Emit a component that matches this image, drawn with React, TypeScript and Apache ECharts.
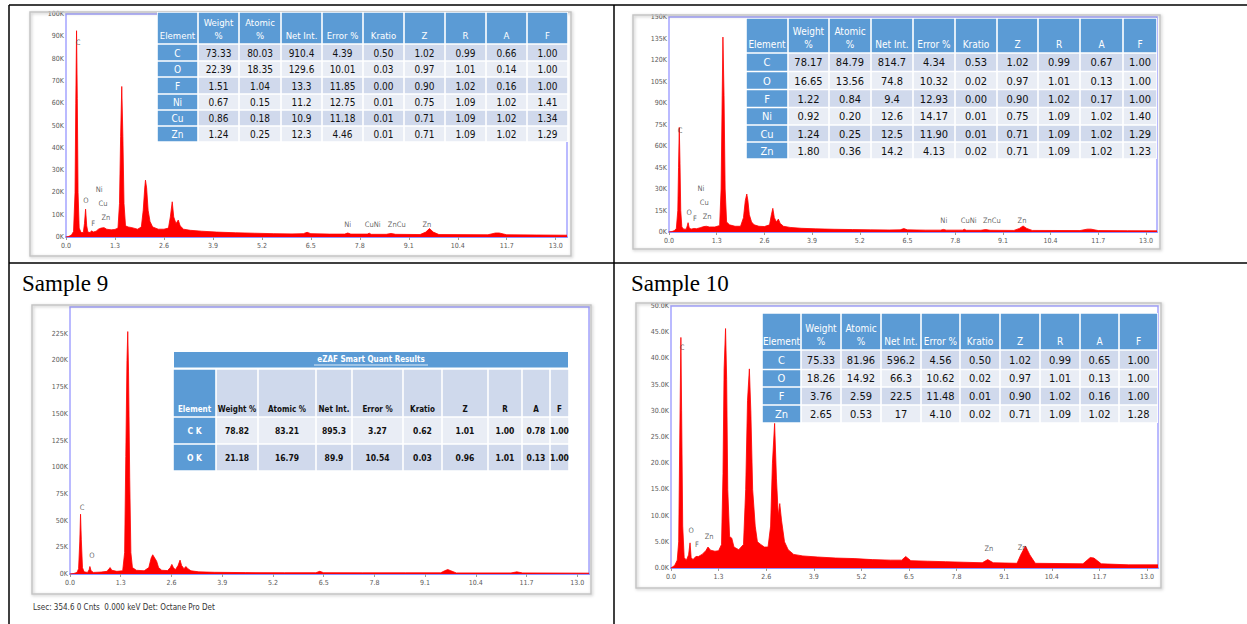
import React, { useEffect, useRef } from 'react';
import * as echarts from 'echarts';

// ---------- DATA ----------
// spectra: [energy keV, counts in thousands]
const spectrum8: number[][] = [
  [0, 0], [0.08, 0.3], [0.15, 1.0], [0.2, 2.5], [0.24, 20], [0.26, 60], [0.28, 92.5], [0.3, 62], [0.32, 20], [0.35, 4],
  [0.4, 2.0], [0.46, 2.0], [0.49, 6], [0.52, 12.5], [0.55, 5], [0.58, 2.2], [0.64, 2.0], [0.68, 2.8], [0.72, 2.2],
  [0.8, 2.6], [0.86, 3.5], [0.93, 4.0], [1.01, 4.2], [1.08, 3.5], [1.2, 3.2], [1.3, 3.4], [1.38, 4], [1.42, 15],
  [1.45, 45], [1.48, 67.5], [1.51, 45], [1.54, 15], [1.58, 5], [1.65, 4.5], [1.75, 4.2], [1.9, 3.5], [2.0, 4.5],
  [2.05, 12], [2.09, 22], [2.11, 25.5], [2.14, 22], [2.18, 12], [2.23, 7], [2.3, 4.5], [2.45, 3.5], [2.6, 3.5],
  [2.72, 4], [2.77, 9], [2.82, 15.8], [2.86, 9], [2.92, 6], [2.98, 7.6], [3.03, 5], [3.12, 3.5], [3.3, 3],
  [3.6, 2.6], [4.0, 2.2], [4.5, 1.9], [5.0, 1.7], [5.5, 1.5], [6.0, 1.4], [6.3, 1.5], [6.4, 2.1], [6.5, 1.5],
  [7.0, 1.3], [7.4, 1.3], [7.48, 1.8], [7.56, 1.3], [8.0, 1.3], [8.05, 1.7], [8.1, 1.2], [8.5, 1.2], [8.63, 1.6],
  [8.75, 1.2], [9.4, 1.1], [9.55, 2.2], [9.65, 3.8], [9.75, 2.2], [9.9, 1.1], [11.2, 1.0], [11.4, 1.8], [11.5, 1.8],
  [11.7, 1.0], [12.5, 0.9], [13.3, 0.8],
];
const spectrum8b: number[][] = [
  [0, 0], [0.08, 0.3], [0.15, 1], [0.2, 2.5], [0.24, 15], [0.26, 45], [0.28, 73], [0.3, 48], [0.32, 15], [0.35, 3.5],
  [0.4, 2], [0.47, 2], [0.5, 4.5], [0.52, 6.5], [0.55, 3], [0.6, 2], [0.68, 2.5], [0.75, 2.3], [0.85, 3], [0.95, 3.8],
  [1.02, 4], [1.1, 3.5], [1.25, 3.5], [1.38, 4.5], [1.42, 30], [1.45, 95], [1.47, 136], [1.5, 95], [1.53, 30],
  [1.57, 7], [1.65, 5], [1.8, 4], [1.95, 4], [2.03, 10], [2.08, 22], [2.12, 26.5], [2.15, 22], [2.19, 12], [2.25, 7],
  [2.32, 5], [2.45, 4], [2.6, 3.8], [2.74, 5], [2.79, 12], [2.83, 16.5], [2.87, 10], [2.93, 7], [2.98, 9], [3.03, 6],
  [3.12, 4], [3.3, 3.2], [3.6, 2.6], [4.0, 2.2], [4.5, 1.9], [5.0, 1.7], [5.5, 1.5], [6.0, 1.4], [6.3, 1.5],
  [6.4, 2.4], [6.5, 1.5], [7.0, 1.3], [7.4, 1.3], [7.48, 1.8], [7.56, 1.3], [8.0, 1.3], [8.05, 1.9], [8.1, 1.2],
  [8.5, 1.2], [8.63, 1.7], [8.75, 1.2], [9.4, 1.1], [9.55, 2.5], [9.65, 4.2], [9.75, 2.5], [9.9, 1.1], [11.2, 1.0],
  [11.4, 2.0], [11.5, 2.0], [11.7, 1.0], [12.5, 0.9], [13.3, 0.8],
];
const spectrum9: number[][] = [
  [0, 0], [0.1, 0.5], [0.18, 1.5], [0.22, 5], [0.25, 30], [0.27, 56], [0.29, 32], [0.32, 6], [0.36, 2], [0.45, 1.5],
  [0.49, 4], [0.51, 7], [0.54, 3], [0.6, 1.5], [0.8, 1.8], [0.95, 2.5], [1.0, 5], [1.03, 6], [1.07, 3.5], [1.2, 2.5],
  [1.35, 3], [1.4, 20], [1.43, 110], [1.46, 200], [1.48, 227], [1.5, 190], [1.53, 90], [1.56, 20], [1.6, 6],
  [1.7, 3.5], [1.9, 3], [2.02, 6], [2.08, 15], [2.12, 18], [2.17, 15], [2.22, 12], [2.27, 6], [2.35, 3.5], [2.5, 3.2],
  [2.57, 6], [2.61, 9], [2.65, 6], [2.7, 4], [2.77, 8], [2.82, 13], [2.86, 8], [2.92, 5], [2.97, 7], [3.02, 5],
  [3.1, 3], [3.3, 2], [3.7, 1.6], [4.5, 1.3], [5.5, 1.2], [6.3, 1.2], [6.4, 2.5], [6.5, 1.2], [7.5, 1.1], [8.6, 1.1],
  [9.5, 1.1], [9.6, 3], [9.68, 4.2], [9.76, 3], [9.9, 1.0], [11.3, 1.0], [11.45, 2.0], [11.6, 1.0], [13.3, 0.8],
];
const spectrum10: number[][] = [
  [0, 0], [0.1, 0.5], [0.17, 1.5], [0.21, 5], [0.24, 25], [0.27, 44], [0.29, 30], [0.32, 8], [0.36, 2], [0.42, 1.5],
  [0.48, 2.5], [0.52, 4.8], [0.55, 2], [0.6, 1.6], [0.68, 2.2], [0.75, 2.2], [0.85, 2.6], [0.95, 3.3], [1.01, 4],
  [1.08, 3.4], [1.2, 3.2], [1.3, 3.3], [1.38, 4.5], [1.42, 18], [1.45, 38], [1.49, 45.7], [1.52, 36], [1.55, 15],
  [1.6, 6], [1.66, 5.7], [1.72, 4], [1.85, 3.5], [1.98, 4.5], [2.04, 15], [2.09, 32], [2.14, 38], [2.18, 30],
  [2.23, 15], [2.3, 8], [2.36, 5], [2.45, 4.5], [2.55, 4], [2.65, 4], [2.72, 8], [2.77, 20], [2.83, 27.6], [2.88, 17],
  [2.93, 10], [2.97, 12.3], [3.02, 9], [3.1, 5], [3.2, 3.5], [3.35, 2.6], [3.6, 2.3], [4.0, 2.1], [4.5, 1.9],
  [5.0, 1.8], [5.5, 1.6], [6.0, 1.5], [6.3, 1.5], [6.41, 2.2], [6.55, 1.4], [7.0, 1.3], [7.5, 1.2], [8.0, 1.1],
  [8.5, 1.0], [8.65, 1.6], [8.8, 1.0], [9.45, 0.9], [9.55, 2.5], [9.68, 4.2], [9.8, 2.5], [9.95, 0.9], [11.25, 0.8],
  [11.45, 2.0], [11.55, 1.9], [11.75, 0.8], [12.5, 0.6], [13.3, 0.6],
];

// peak labels: [text, keV, counts K]
const labels8: [string, number, number][] = [
  ['C', 0.32, 87], ['O', 0.53, 16], ['F', 0.72, 6], ['Ni', 0.88, 21], ['Cu', 0.98, 15], ['Zn', 1.06, 8.5],
  ['Ni', 7.48, 5.4], ['CuNi', 8.14, 5.4], ['ZnCu', 8.78, 5.4], ['Zn', 9.58, 5.4],
];
const labels8b: [string, number, number][] = [
  ['C', 0.3, 70.5], ['O', 0.55, 13], ['F', 0.71, 9], ['Ni', 0.87, 30], ['Cu', 0.96, 20], ['Zn', 1.04, 10.5],
  ['Ni', 7.49, 7.7], ['CuNi', 8.17, 7.7], ['ZnCu', 8.8, 7.7], ['Zn', 9.62, 7.7],
];
const labels9: [string, number, number][] = [['C', 0.31, 62], ['O', 0.56, 17]];
const labels10: [string, number, number][] = [
  ['C', 0.3, 42], ['O', 0.55, 7], ['F', 0.71, 4.4], ['Zn', 1.04, 5.9], ['Zn', 8.68, 3.6], ['Zn', 9.59, 3.8],
];

// tables
const headerStd = ['Element', 'Weight\n%', 'Atomic\n%', 'Net Int.', 'Error %', 'Kratio', 'Z', 'R', 'A', 'F'];
const headerEzaf = ['Element', 'Weight %', 'Atomic %', 'Net Int.', 'Error %', 'Kratio', 'Z', 'R', 'A', 'F'];
const rows8 = [
  ['C', '73.33', '80.03', '910.4', '4.39', '0.50', '1.02', '0.99', '0.66', '1.00'],
  ['O', '22.39', '18.35', '129.6', '10.01', '0.03', '0.97', '1.01', '0.14', '1.00'],
  ['F', '1.51', '1.04', '13.3', '11.85', '0.00', '0.90', '1.02', '0.16', '1.00'],
  ['Ni', '0.67', '0.15', '11.2', '12.75', '0.01', '0.75', '1.09', '1.02', '1.41'],
  ['Cu', '0.86', '0.18', '10.9', '11.18', '0.01', '0.71', '1.09', '1.02', '1.34'],
  ['Zn', '1.24', '0.25', '12.3', '4.46', '0.01', '0.71', '1.09', '1.02', '1.29'],
];
const rows8b = [
  ['C', '78.17', '84.79', '814.7', '4.34', '0.53', '1.02', '0.99', '0.67', '1.00'],
  ['O', '16.65', '13.56', '74.8', '10.32', '0.02', '0.97', '1.01', '0.13', '1.00'],
  ['F', '1.22', '0.84', '9.4', '12.93', '0.00', '0.90', '1.02', '0.17', '1.00'],
  ['Ni', '0.92', '0.20', '12.6', '14.17', '0.01', '0.75', '1.09', '1.02', '1.40'],
  ['Cu', '1.24', '0.25', '12.5', '11.90', '0.01', '0.71', '1.09', '1.02', '1.29'],
  ['Zn', '1.80', '0.36', '14.2', '4.13', '0.02', '0.71', '1.09', '1.02', '1.23'],
];
const rows9 = [
  ['C K', '78.82', '83.21', '895.3', '3.27', '0.62', '1.01', '1.00', '0.78', '1.00'],
  ['O K', '21.18', '16.79', '89.9', '10.54', '0.03', '0.96', '1.01', '0.13', '1.00'],
];
const rows10 = [
  ['C', '75.33', '81.96', '596.2', '4.56', '0.50', '1.02', '0.99', '0.65', '1.00'],
  ['O', '18.26', '14.92', '66.3', '10.62', '0.02', '0.97', '1.01', '0.13', '1.00'],
  ['F', '3.76', '2.59', '22.5', '11.48', '0.01', '0.90', '1.02', '0.16', '1.00'],
  ['Zn', '2.65', '0.53', '17', '4.10', '0.02', '0.71', '1.09', '1.02', '1.28'],
];
const ezafTitle = 'eZAF Smart Quant Results';
const sampleTitles = ['Sample 9', 'Sample 10'];
const footer9 = 'Lsec: 354.6 0 Cnts  0.000 keV Det: Octane Pro Det';

// ---------- STYLE / LAYOUT ----------
const NARROW = "'Liberation Sans Narrow', 'DejaVu Sans Condensed', 'Liberation Sans', sans-serif";
const BLUE = '#5B9BD5';
const DARK = '#D0D9EC';
const LIGHT = '#E9EDF5';

type TableLayout = {
  cols: number[];
  headTop: number;
  rowEdges: number[];
  fontSize: number;
  headFontSize?: number;
  bold?: boolean;
  ezaf?: boolean;
  titleTop?: number;
};

function buildTable(lay: TableLayout, header: string[], rows: string[][]): any[] {
  const els: any[] = [];
  const g = 1.6;
  const { cols, headTop, rowEdges, fontSize } = lay;
  const hfs = lay.headFontSize || fontSize;
  const top = lay.ezaf ? (lay.titleTop as number) : headTop;
  const right = cols[cols.length - 1];
  els.push({
    type: 'rect', z: 50,
    shape: { x: cols[0], y: top, width: right - cols[0], height: rowEdges[rowEdges.length - 1] - top },
    style: { fill: '#ffffff' },
  });
  if (lay.ezaf) {
    const tt = lay.titleTop as number;
    els.push({
      type: 'rect', z: 51,
      shape: { x: cols[0] + 1, y: tt + 1, width: right - cols[0] - 2, height: headTop - tt - 2.5 },
      style: { fill: BLUE },
    });
    const cx = (cols[0] + right) / 2;
    const cy = (tt + headTop) / 2;
    els.push({
      type: 'text', z: 52, x: cx, y: cy - 0.5,
      style: { text: ezafTitle, fill: '#ffffff', font: `bold ${hfs}px ${NARROW}`, align: 'center', verticalAlign: 'middle' },
    });
    els.push({
      type: 'line', z: 52,
      shape: { x1: cx - 57, y1: cy + 5, x2: cx + 57, y2: cy + 5 },
      style: { stroke: '#ffffff', lineWidth: 0.8 },
    });
  }
  const headBottom = rowEdges[0];
  for (let i = 0; i < header.length; i++) {
    const x = cols[i] + g / 2;
    const w = cols[i + 1] - cols[i] - g;
    const isElem = i === 0;
    const fill = lay.ezaf && !isElem ? '#CFD9EC' : BLUE;
    const color = lay.ezaf && !isElem ? '#111111' : '#ffffff';
    els.push({ type: 'rect', z: 51, shape: { x, y: headTop + g / 2, width: w, height: headBottom - headTop - g }, style: { fill } });
    els.push({
      type: 'text', z: 52, x: x + w / 2, y: headBottom - 2.5,
      style: {
        text: header[i], fill: color, align: 'center', verticalAlign: 'bottom',
        font: `${lay.bold ? 'bold ' : ''}${hfs}px ${NARROW}`, lineHeight: hfs + 3,
      },
    });
  }
  for (let r = 0; r < rows.length; r++) {
    const y0 = rowEdges[r] + g / 2;
    const h = rowEdges[r + 1] - rowEdges[r] - g;
    const rowFill = lay.ezaf ? (r % 2 === 0 ? LIGHT : DARK) : (r % 2 === 0 ? DARK : LIGHT);
    for (let i = 0; i < rows[r].length; i++) {
      const x = cols[i] + g / 2;
      const w = cols[i + 1] - cols[i] - g;
      const isElem = i === 0;
      els.push({ type: 'rect', z: 51, shape: { x, y: y0, width: w, height: h }, style: { fill: isElem ? BLUE : rowFill } });
      els.push({
        type: 'text', z: 52, x: x + w / 2, y: y0 + h / 2 + 0.5,
        style: {
          text: rows[r][i], fill: isElem ? '#ffffff' : '#111111', align: 'center', verticalAlign: 'middle',
          font: `${lay.bold ? 'bold ' : ''}${fontSize}px ${NARROW}`,
        },
      });
    }
  }
  return els;
}

type Panel = {
  grid: { left: number; top: number; width: number; height: number };
  data: number[][];
  labels: [string, number, number][];
  ymax: number;
  yint: number;
  yfmt: (v: number) => string;
  hideYMax?: boolean;
};

const panels: Panel[] = [
  { grid: { left: 66, top: 14, width: 501, height: 223 }, data: spectrum8, labels: labels8, ymax: 100, yint: 10, yfmt: (v) => `${Math.round(v)}K` },
  { grid: { left: 669, top: 17, width: 488, height: 215 }, data: spectrum8b, labels: labels8b, ymax: 150, yint: 15, yfmt: (v) => `${Math.round(v)}K` },
  { grid: { left: 70, top: 307, width: 519, height: 267 }, data: spectrum9, labels: labels9, ymax: 250, yint: 25, yfmt: (v) => `${Math.round(v)}K`, hideYMax: true },
  { grid: { left: 671, top: 306, width: 487, height: 262 }, data: spectrum10, labels: labels10, ymax: 50, yint: 5, yfmt: (v) => `${v.toFixed(1)}K` },
];

function buildOption(): any {
  const grids: any[] = [];
  const xAxes: any[] = [];
  const yAxes: any[] = [];
  const series: any[] = [];
  panels.forEach((p, i) => {
    grids.push({ ...p.grid, show: true, borderColor: '#a4a4ff', borderWidth: 1.5, backgroundColor: '#ffffff', containLabel: false });
    xAxes.push({
      type: 'value', gridIndex: i, min: 0, max: 13.3, interval: 1.3,
      axisLine: { show: true, lineStyle: { color: '#8f8fff', width: 2 } },
      axisTick: { show: true, length: 3, lineStyle: { color: '#9a9a9a' } },
      splitLine: { show: false },
      axisLabel: { showMaxLabel: false, fontSize: 7, color: '#595959', fontFamily: NARROW, margin: 5, formatter: (v: number) => v.toFixed(1) },
    });
    yAxes.push({
      type: 'value', gridIndex: i, min: 0, max: p.ymax, interval: p.yint,
      axisLine: { show: false }, axisTick: { show: false }, splitLine: { show: false },
      axisLabel: { showMaxLabel: !p.hideYMax, fontSize: 7, color: '#595959', fontFamily: NARROW, margin: 2, formatter: p.yfmt },
    });
    series.push({
      type: 'line', xAxisIndex: i, yAxisIndex: i, data: p.data, showSymbol: false, symbol: 'none',
      lineStyle: { color: '#ff0000', width: 0.8 }, areaStyle: { color: '#ff0000', opacity: 1 }, z: 3,
    });
    series.push({
      type: 'scatter', xAxisIndex: i, yAxisIndex: i, symbol: 'circle', symbolSize: 1,
      itemStyle: { color: 'rgba(0,0,0,0)' }, z: 4,
      data: p.labels.map((l) => [l[1], l[2], l[0]]),
      label: {
        show: true, position: 'top', distance: -4, formatter: (pr: any) => pr.data[2],
        fontSize: 7.5, color: '#404040', fontFamily: NARROW,
      },
    });
  });

  const graphic: any[] = [];
  const black = (x1: number, y1: number, x2: number, y2: number) => ({
    type: 'line', z: 60, shape: { x1, y1, x2, y2 }, style: { stroke: '#000000', lineWidth: 1.5 },
  });
  graphic.push(black(9, 5, 1247, 5), black(9, 263, 1247, 263), black(9, 5, 9, 624), black(614, 5, 614, 624));
  const frames = [
    [30, 12, 541, 244], [633, 15, 527, 234], [32, 305, 559, 289], [636, 303, 525, 285],
  ];
  frames.forEach(([x, y, w, h]) => {
    graphic.push({
      type: 'rect', z: 1, shape: { x, y, width: w, height: h },
      style: { fill: 'none', stroke: '#c4c4c4', lineWidth: 1.5, shadowBlur: 3, shadowColor: 'rgba(0,0,0,0.25)', shadowOffsetX: 1, shadowOffsetY: 1 },
    });
  });
  graphic.push({ type: 'text', z: 60, x: 22, y: 283, style: { text: sampleTitles[0], font: "23px 'Liberation Serif', serif", fill: '#000000', verticalAlign: 'middle' } });
  graphic.push({ type: 'text', z: 60, x: 631, y: 283, style: { text: sampleTitles[1], font: "23px 'Liberation Serif', serif", fill: '#000000', verticalAlign: 'middle' } });
  graphic.push({ type: 'text', z: 60, x: 33, y: 607, style: { text: footer9, font: `8px ${NARROW}`, fill: '#333333', verticalAlign: 'middle' } });

  graphic.push(...buildTable({ cols: [157, 198, 239, 281, 322, 363, 404, 445, 486, 527, 568], headTop: 12, rowEdges: [44, 61, 77, 94, 110, 126, 142], fontSize: 10, headFontSize: 9.5 }, headerStd, rows8));
  graphic.push(...buildTable({ cols: [746, 788, 829, 871, 913, 955, 997, 1038, 1080, 1123, 1157], headTop: 18, rowEdges: [53, 71.5, 89.5, 107.5, 125, 142, 159], fontSize: 11, headFontSize: 10 }, headerStd, rows8b));
  graphic.push(...buildTable({ cols: [173, 216, 258, 316, 352, 403, 442, 488, 522, 550, 569], headTop: 369, titleTop: 351, rowEdges: [417, 444, 471], fontSize: 8.5, headFontSize: 8, bold: true, ezaf: true }, headerEzaf, rows9));
  graphic.push(...buildTable({ cols: [762, 801, 841, 881, 921, 960, 1000, 1040, 1080, 1119, 1158], headTop: 313, rowEdges: [350, 369.5, 387, 405, 423], fontSize: 11, headFontSize: 10 }, headerStd, rows10));

  return { animation: false, backgroundColor: '#ffffff', grid: grids, xAxis: xAxes, yAxis: yAxes, series, graphic };
}

export default function App() {
  const ref = useRef<HTMLDivElement>(null);
  useEffect(() => {
    if (!ref.current) return;
    const chart = echarts.init(ref.current, undefined, { renderer: 'svg' });
    chart.setOption(buildOption());
    return () => chart.dispose();
  }, []);
  return <div ref={ref} style={{ position: 'fixed', left: 0, top: 0, width: 1247, height: 624 }} />;
}
